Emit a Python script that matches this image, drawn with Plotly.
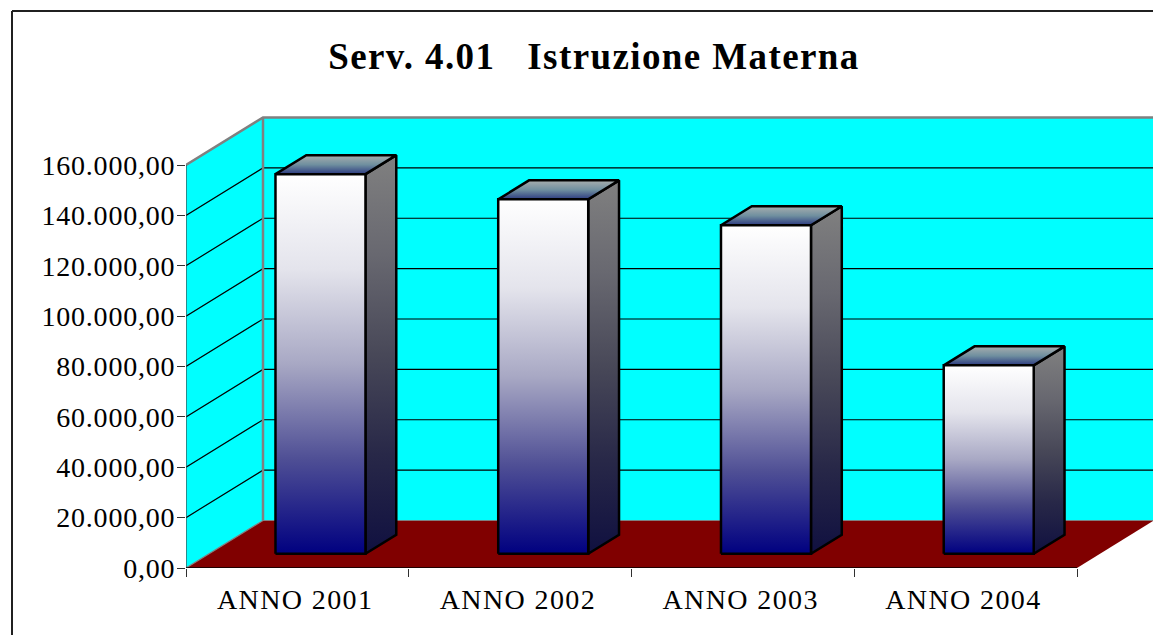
import plotly.graph_objects as go

categories = ["ANNO 2001", "ANNO 2002", "ANNO 2003", "ANNO 2004"]
values = [150700, 140700, 130400, 74800]
y_ticks = [0, 20000, 40000, 60000, 80000, 100000, 120000, 140000, 160000]
title_text = "Serv. 4.01\u00a0\u00a0\u00a0Istruzione Materna"

W, H = 1153, 635
L, R, T, B = 186, 0, 105, 67
PX_PER_CAT = 222.75
PX_PER_UNIT = 403 / 160000
DX = 77 / PX_PER_CAT          # depth offset in category units
DY = 47.5 / PX_PER_UNIT       # depth offset in value units
YMAX = max(y_ticks)
N = len(categories)
BAR_W = 90 / PX_PER_CAT
Z0, Z1 = 0.3, 0.7             # front/back of a bar, as a fraction of depth


def P(x, v, z=0.0):
    return x + z * DX, v + z * DY


fig = go.Figure()


def poly(points, fill=None, line="black", width=1.0, grad=None):
    xs = [p[0] for p in points]
    ys = [p[1] for p in points]
    kw = dict(x=xs, y=ys, mode="lines", hoverinfo="skip", showlegend=False, cliponaxis=False,
              line=dict(color=line, width=width))
    if fill or grad:
        kw["fill"] = "toself"
        kw["fillcolor"] = fill
        if grad:
            kw["fillgradient"] = dict(type="vertical", colorscale=grad)
    fig.add_trace(go.Scatter(**kw))


GREY = "#808080"

# walls and floor
poly([P(0, 0, 1), P(N, 0, 1), P(N, YMAX, 1), P(0, YMAX, 1), P(0, 0, 1)], fill="#00ffff", line=GREY, width=0)
poly([P(0, 0), P(0, 0, 1), P(0, YMAX, 1), P(0, YMAX), P(0, 0)], fill="#00ffff", line=GREY, width=0)
poly([P(0, 0), P(N, 0), P(N, 0, 1), P(0, 0, 1), P(0, 0)], fill="#800000", line="#800000", width=0)

# gridlines
for v in y_ticks[1:-1]:
    poly([P(0, v), P(0, v, 1), P(N, v, 1)], line="black", width=1.2)

# wall edges
poly([P(0, YMAX), P(0, YMAX, 1), P(N, YMAX, 1)], line=GREY, width=2.5)
poly([P(0, YMAX, 1), P(0, 0, 1)], line=GREY, width=2.5)
poly([P(0, 0), P(0, 0, 1), P(N, 0, 1)], line=GREY, width=1.2)

FRONT = [[0, "#000080"], [0.25, "#4f4f95"], [0.5, "#a8a8c4"], [0.75, "#e4e4ec"], [1, "#ffffff"]]
SIDE = [[0, "#101040"], [0.25, "#282848"], [0.5, "#484858"], [0.75, "#686870"], [1, "#808080"]]
TOP = [[0, "#2c3a80"], [0.5, "#6f8f9f"], [1, "#a8aeae"]]

for i, v in enumerate(values):
    x0 = i + 0.5 - BAR_W / 2
    x1 = i + 0.5 + BAR_W / 2
    poly([P(x1, 0, Z0), P(x1, 0, Z1), P(x1, v, Z1), P(x1, v, Z0), P(x1, 0, Z0)], fill="#808080", width=2.5, grad=SIDE)
    poly([P(x0, v, Z0), P(x1, v, Z0), P(x1, v, Z1), P(x0, v, Z1), P(x0, v, Z0)], fill="#808080", width=2.5, grad=TOP)
    poly([P(x0, 0, Z0), P(x1, 0, Z0), P(x1, v, Z0), P(x0, v, Z0), P(x0, 0, Z0)], fill="#8080c0", width=2.5, grad=FRONT)

# axis lines
poly([P(0, 0), P(0, YMAX)], line="#404040", width=1.2)
poly([P(0, 0), P(N, 0)], line="black", width=1.5)

plot_h = H - T - B
fig.update_layout(
    width=W, height=H, autosize=False,
    margin=dict(l=L, r=R, t=T, b=B, pad=0),
    paper_bgcolor="white", plot_bgcolor="white",
    separators=",.",
    showlegend=False,
    font=dict(family="Liberation Serif", color="black"),
    title=dict(text=title_text, x=594 / W, xanchor="center", xref="container",
               y=1 - 56 / H, yanchor="middle", yref="container",
               font=dict(family="Liberation Serif", size=37, color="black", weight="bold")),
    xaxis=dict(range=[0, (W - L - R) / PX_PER_CAT], showgrid=False, zeroline=False, showline=False,
               tickmode="array", tickvals=[i + 0.49 for i in range(N)], ticktext=categories,
               ticks="", tickfont=dict(size=28), ticklabelstandoff=12,
               minor=dict(tickmode="array", tickvals=list(range(N + 1)), ticks="outside", ticklen=8,
                          tickcolor="#303030", tickwidth=1, showgrid=False)),
    yaxis=dict(range=[0, plot_h / PX_PER_UNIT], showgrid=False, zeroline=False, showline=False,
               tickmode="array", tickvals=y_ticks, tickformat=",.2f",
               ticks="outside", ticklen=8, tickcolor="#303030", tickwidth=1,
               tickfont=dict(size=28), ticklabelstandoff=-4),
    shapes=[
        dict(type="line", xref="paper", yref="paper",
             x0=(12 - L) / (W - L), x1=(12 - L) / (W - L),
             y0=(H - B - 11) / plot_h, y1=-B / plot_h, line=dict(color="#202020", width=2)),
        dict(type="line", xref="paper", yref="paper",
             x0=(12 - L) / (W - L), x1=1,
             y0=(H - B - 11) / plot_h, y1=(H - B - 11) / plot_h, line=dict(color="#202020", width=2)),
    ],
)

spacing_js = """
document.body.style.margin='0';
document.documentElement.style.overflow='hidden';
function sp(sel,v){document.querySelectorAll(sel).forEach(function(e){e.style.letterSpacing=v;});}
sp('.gtitle','1.4px');
sp('.xtick text','1.4px');
sp('.ytick text','0.8px');
"""
fig.write_html("out.html", post_script=spacing_js, config={"displayModeBar": False})
